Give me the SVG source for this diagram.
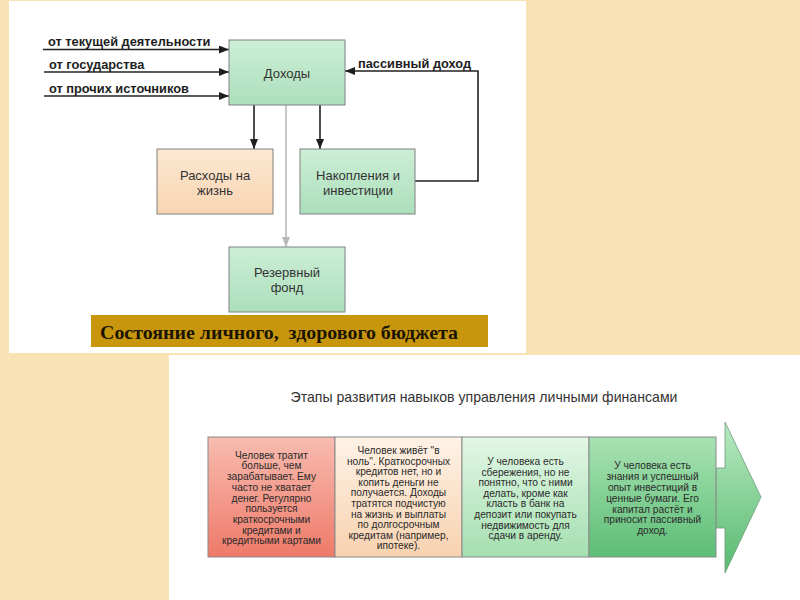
<svg xmlns="http://www.w3.org/2000/svg" width="800" height="600" viewBox="0 0 800 600">
<defs>
<style>
.lbl{font-family:"Liberation Sans",Arial,sans-serif;font-weight:bold;font-size:12.8px;fill:#1e1e1e}
.bt{font-family:"Liberation Sans",Arial,sans-serif;font-size:13px;fill:#333;text-anchor:middle}
.st{font-family:"Liberation Sans",Arial,sans-serif;font-size:10.2px;fill:#2a2a2a;text-anchor:middle}
.box{stroke:#808080;stroke-width:1}
.sbox{stroke:#8a8a8a;stroke-width:1}
.ln{fill:none;stroke:#222;stroke-width:1.6}
.gl{fill:none;stroke:#b8b8b8;stroke-width:1.6}
</style>
<linearGradient id="gG" x1="0" y1="0" x2="0" y2="1"><stop offset="0" stop-color="#cdeed6"/><stop offset="1" stop-color="#acdfbb"/></linearGradient>
<linearGradient id="gP" x1="0" y1="0" x2="0" y2="1"><stop offset="0" stop-color="#fce8d2"/><stop offset="1" stop-color="#f8d5b2"/></linearGradient>
<linearGradient id="s1" x1="0" y1="0" x2="0" y2="1"><stop offset="0" stop-color="#f8bcb0"/><stop offset="1" stop-color="#ee7a69"/></linearGradient>
<linearGradient id="s2" x1="0" y1="0" x2="0" y2="1"><stop offset="0" stop-color="#fef2e6"/><stop offset="1" stop-color="#f8d2b0"/></linearGradient>
<linearGradient id="s3" x1="0" y1="0" x2="0" y2="1"><stop offset="0" stop-color="#e3f7e6"/><stop offset="1" stop-color="#a4dfaf"/></linearGradient>
<linearGradient id="s4" x1="0" y1="0" x2="0" y2="1"><stop offset="0" stop-color="#a8e2b2"/><stop offset="1" stop-color="#5dbd76"/></linearGradient>
<linearGradient id="ar" x1="0" y1="0" x2="0" y2="1"><stop offset="0" stop-color="#b9eac2"/><stop offset="1" stop-color="#57b970"/></linearGradient>
<marker id="ah" viewBox="0 0 10 8" refX="10" refY="4" markerWidth="10" markerHeight="8" markerUnits="userSpaceOnUse" orient="auto"><path d="M0,0 L10,4 L0,8 z" fill="#1e1e1e"/></marker>
<marker id="ahg" viewBox="0 0 10 8" refX="10" refY="4" markerWidth="10" markerHeight="8" markerUnits="userSpaceOnUse" orient="auto"><path d="M0,0 L10,4 L0,8 z" fill="#b8b8b8"/></marker>
</defs>
<rect width="800" height="600" fill="#f9e3b4"/>
<rect x="9" y="1" width="517" height="352" fill="#ffffff"/>
<rect x="169" y="355" width="631" height="245" fill="#ffffff"/>

<g id="connectors">
<path class="ln" d="M43,49.5 H229" marker-end="url(#ah)"/>
<path class="ln" d="M44,72 H229" marker-end="url(#ah)"/>
<path class="ln" d="M44,96 H229" marker-end="url(#ah)"/>
<path class="ln" d="M415,181 H478 V71 H345" marker-end="url(#ah)"/>
<path class="ln" d="M254,105 V149" marker-end="url(#ah)"/>
<path class="ln" d="M320,105 V149" marker-end="url(#ah)"/>
<path class="gl" d="M286,105 V247" marker-end="url(#ahg)"/>
<text class="lbl" x="48" y="46">от текущей деятельности</text>
<text class="lbl" x="49" y="69">от государства</text>
<text class="lbl" x="49" y="93">от прочих источников</text>
<text class="lbl" x="358" y="68">пассивный доход</text>
</g>

<g id="dohody">
<rect class="box" x="229" y="40" width="116" height="65" fill="url(#gG)"/>
<text class="bt" x="287" y="77.5">Доходы</text>
</g>
<g id="rashody">
<rect class="box" x="157" y="149" width="116" height="65" fill="url(#gP)"/>
<text class="bt" x="215" y="179.5">Расходы на</text>
<text class="bt" x="215" y="194.5">жизнь</text>
</g>
<g id="nakopleniya">
<rect class="box" x="300" y="149" width="115" height="65" fill="url(#gG)"/>
<text class="bt" x="358" y="179.5">Накопления и</text>
<text class="bt" x="358" y="194.5">инвестиции</text>
</g>
<g id="rezerv">
<rect class="box" x="229" y="247" width="116" height="65" fill="url(#gG)"/>
<text class="bt" x="287" y="276.5">Резервный</text>
<text class="bt" x="287" y="291.5">фонд</text>
</g>
<g id="banner">
<rect x="91" y="315" width="397" height="32" fill="#c8960c"/>
<text x="100" y="338.5" textLength="358" lengthAdjust="spacingAndGlyphs" style="white-space:pre" font-family="'Liberation Serif','Times New Roman',serif" font-weight="bold" font-size="19" fill="#1a1400">Состояние личного,  здорового бюджета</text>
</g>

<g id="stages-title">
<text x="484" y="401.5" text-anchor="middle" font-family="'Liberation Sans',Arial,sans-serif" font-size="14.1" fill="#333">Этапы развития навыков управления личными финансами</text>
</g>
<g id="stage-arrow">
<polygon points="716,468 725,468 725,422 761,497 725,573 725,528 716,528" fill="url(#ar)" stroke="#6f9c78" stroke-width="0.8"/>
</g>
<g id="stage1">
<rect class="sbox" x="208" y="437" width="127" height="120" fill="url(#s1)"/>
<text class="st" y="458.7"><tspan x="271.5">Человек тратит</tspan><tspan x="271.5" dy="10.7">больше, чем</tspan><tspan x="271.5" dy="10.7">зарабатывает. Ему</tspan><tspan x="271.5" dy="10.7">часто не хватает</tspan><tspan x="271.5" dy="10.7">денег. Регулярно</tspan><tspan x="271.5" dy="10.7">пользуется</tspan><tspan x="271.5" dy="10.7">краткосрочными</tspan><tspan x="271.5" dy="10.7">кредитами и</tspan><tspan x="271.5" dy="10.7">кредитными картами</tspan></text>
</g>
<g id="stage2">
<rect class="sbox" x="335" y="437" width="127" height="120" fill="url(#s2)"/>
<text class="st" y="454"><tspan x="398.5">Человек живёт "в</tspan><tspan x="398.5" dy="10.6">ноль". Краткосрочных</tspan><tspan x="398.5" dy="10.6">кредитов нет, но и</tspan><tspan x="398.5" dy="10.6">копить деньги не</tspan><tspan x="398.5" dy="10.6">получается. Доходы</tspan><tspan x="398.5" dy="10.6">тратятся подчистую</tspan><tspan x="398.5" dy="10.6">на жизнь и выплаты</tspan><tspan x="398.5" dy="10.6">по долгосрочным</tspan><tspan x="398.5" dy="10.6">кредитам (например,</tspan><tspan x="398.5" dy="10.6">ипотеке).</tspan></text>
</g>
<g id="stage3">
<rect class="sbox" x="462" y="437" width="127" height="120" fill="url(#s3)"/>
<text class="st" y="465"><tspan x="525.5">У человека есть</tspan><tspan x="525.5" dy="10.6">сбережения, но не</tspan><tspan x="525.5" dy="10.6">понятно, что с ними</tspan><tspan x="525.5" dy="10.6">делать, кроме как</tspan><tspan x="525.5" dy="10.6">класть в банк на</tspan><tspan x="525.5" dy="10.6">депозит или покупать</tspan><tspan x="525.5" dy="10.6">недвижимость для</tspan><tspan x="525.5" dy="10.6">сдачи в аренду.</tspan></text>
</g>
<g id="stage4">
<rect class="sbox" x="589" y="437" width="127" height="120" fill="url(#s4)"/>
<text class="st" y="469.4"><tspan x="652.5">У человека есть</tspan><tspan x="652.5" dy="10.8">знания и успешный</tspan><tspan x="652.5" dy="10.8">опыт инвестиций в</tspan><tspan x="652.5" dy="10.8">ценные бумаги. Его</tspan><tspan x="652.5" dy="10.8">капитал растёт и</tspan><tspan x="652.5" dy="10.8">приносит пассивный</tspan><tspan x="652.5" dy="10.8">доход.</tspan></text>
</g>
</svg>
